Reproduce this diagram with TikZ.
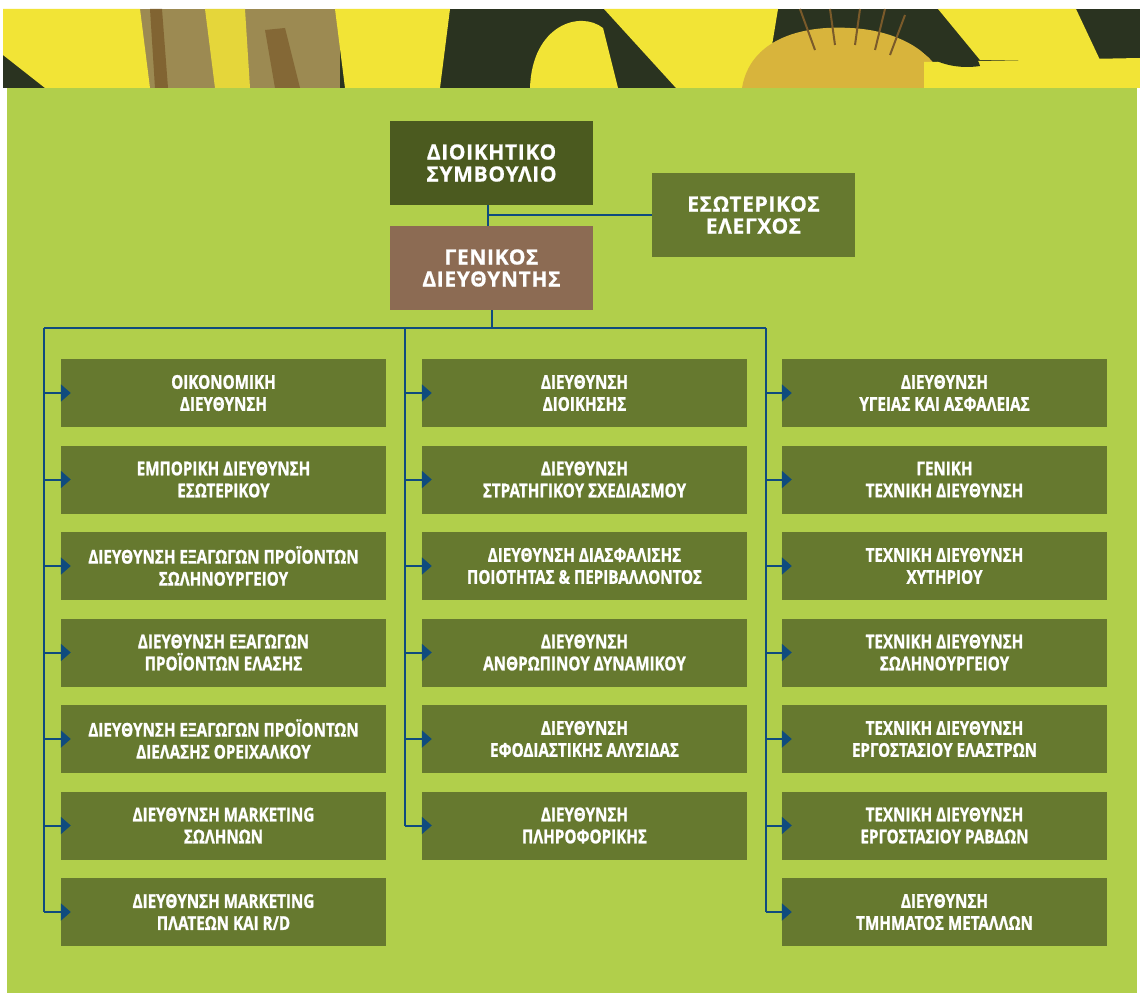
\documentclass[tikz,border=0pt]{standalone}
\usepackage{fontspec}
\usetikzlibrary{arrows.meta}
\newfontfamily\topfont[FakeBold=0.6,LetterSpace=3]{Open Sans}
\newfontfamily\condfont[FakeStretch=0.8,FakeBold=1.2]{Open Sans}
\definecolor{bggreen}{HTML}{B1CF4B}
\definecolor{boxgreen}{HTML}{66792F}
\definecolor{dsgreen}{HTML}{4B5A1F}
\definecolor{gdbrown}{HTML}{8C6B53}
\definecolor{lineblue}{HTML}{0F4B7E}
\definecolor{phdark}{HTML}{2A3320}
\definecolor{phyellow}{HTML}{F2E436}
\definecolor{phkhaki}{HTML}{9C8A52}
\definecolor{phorange}{HTML}{D8B43C}
\definecolor{phbrown}{HTML}{7A5A2A}
\begin{document}
\begin{tikzpicture}[x=1pt,y=-1pt,
  topbox/.style={minimum width=203pt,minimum height=84pt,inner sep=0pt,align=center,text=white,
    font=\topfont\bfseries\fontsize{21}{22}\selectfont},
  lbox/.style={fill=boxgreen,minimum width=325pt,minimum height=68pt,inner sep=0pt,align=center,text=white,
    font=\condfont\bfseries\fontsize{19}{22}\selectfont},
  conn/.style={draw=lineblue,line width=2pt},
  arr/.style={conn,-{Triangle[length=10pt,width=17pt]}}]
\useasboundingbox (0,0) rectangle (1140,995);
\fill[white] (0,0) rectangle (1140,995);
% photo strip
\begin{scope}
\clip (3,9) rectangle (1140,88);
\fill[phdark] (3,9) rectangle (1140,88);
\fill[phkhaki] (140,9) rectangle (340,88);
\fill[phbrown!80!phkhaki] (150,9) -- (162,9) -- (168,88) -- (155,88) -- cycle;
\fill[phbrown!70!phkhaki] (265,30) -- (285,28) -- (300,88) -- (275,88) -- cycle;
\fill[phyellow] (3,9) -- (140,9) -- (150,88) -- (45,88) -- (3,55) -- cycle;
\fill[phyellow!85!phkhaki] (205,9) -- (245,9) -- (250,88) -- (215,88) -- cycle;
\fill[phyellow] (335,9) -- (450,9) -- (440,88) -- (345,88) -- cycle;
\fill[phyellow] (530,88) .. controls (532,25) and (580,10) .. (603,28) -- (618,88) -- cycle;
\fill[phyellow] (604,9) -- (778,9) -- (765,88) -- (676,88) -- cycle;
\fill[phorange] (742,88) .. controls (750,40) and (800,25) .. (850,28) .. controls (900,30) and (940,55) .. (945,88) -- cycle;
\draw[phbrown,line width=2pt] (800,9) -- (815,50) (830,9) -- (835,45) (860,9) -- (855,45) (885,9) -- (875,50) (905,15) -- (890,55);
\fill[phyellow] (938,9) -- (1076,9) -- (1100,60) -- (980,60) -- cycle;
\fill[phyellow] (924,62) -- (1140,58) -- (1140,88) -- (924,88) -- cycle;
\fill[phdark] (915,42) .. controls (940,38) and (975,45) .. (980,66) .. controls (955,70) and (925,62) .. (915,42) -- cycle;
\end{scope}
% background
\fill[bggreen] (7,88) rectangle (1137,993);
% top nodes
\node[topbox,fill=dsgreen] (ds) at (491.5,163) {ΔΙΟΙΚΗΤΙΚΟ\\ΣΥΜΒΟΥΛΙΟ};
\node[topbox,fill=gdbrown] (gd) at (491.5,268) {ΓΕΝΙΚΟΣ\\ΔΙΕΥΘΥΝΤΗΣ};
\node[topbox,fill=boxgreen] (es) at (753.5,215) {ΕΣΩΤΕΡΙΚΟΣ\\ΕΛΕΓΧΟΣ};
\coordinate (dsj) at (488,215);
\draw[conn] (ds.south -| dsj) -- (gd.north -| dsj);
\draw[conn] (dsj) -- (es.west);
% bus
\coordinate (tl) at (44,328);
\coordinate (tm) at (405,328);
\coordinate (tr) at (766,328);
\draw[conn] (gd.south) -- (gd.south |- tl);
\draw[conn] (tl) -- (tr);
% left column
\node[lbox] (l1) at (223.5,393) {ΟΙΚΟΝΟΜΙΚΗ\\ΔΙΕΥΘΥΝΣΗ};
\node[lbox] (l2) at (223.5,479.5) {ΕΜΠΟΡΙΚΗ ΔΙΕΥΘΥΝΣΗ\\ΕΣΩΤΕΡΙΚΟΥ};
\node[lbox] (l3) at (223.5,566) {ΔΙΕΥΘΥΝΣΗ ΕΞΑΓΩΓΩΝ ΠΡΟΪΟΝΤΩΝ\\ΣΩΛΗΝΟΥΡΓΕΙΟΥ};
\node[lbox] (l4) at (223.5,652.5) {ΔΙΕΥΘΥΝΣΗ ΕΞΑΓΩΓΩΝ\\ΠΡΟΪΟΝΤΩΝ ΕΛΑΣΗΣ};
\node[lbox] (l5) at (223.5,739) {ΔΙΕΥΘΥΝΣΗ ΕΞΑΓΩΓΩΝ ΠΡΟΪΟΝΤΩΝ\\ΔΙΕΛΑΣΗΣ ΟΡΕΙΧΑΛΚΟΥ};
\node[lbox] (l6) at (223.5,825.5) {ΔΙΕΥΘΥΝΣΗ MARKETING\\ΣΩΛΗΝΩΝ};
\node[lbox] (l7) at (223.5,912) {ΔΙΕΥΘΥΝΣΗ MARKETING\\ΠΛΑΤΕΩΝ ΚΑΙ R/D};
% middle column
\node[lbox] (m1) at (584.5,393) {ΔΙΕΥΘΥΝΣΗ\\ΔΙΟΙΚΗΣΗΣ};
\node[lbox] (m2) at (584.5,479.5) {ΔΙΕΥΘΥΝΣΗ\\ΣΤΡΑΤΗΓΙΚΟΥ ΣΧΕΔΙΑΣΜΟΥ};
\node[lbox] (m3) at (584.5,566) {ΔΙΕΥΘΥΝΣΗ ΔΙΑΣΦΑΛΙΣΗΣ\\ΠΟΙΟΤΗΤΑΣ \& ΠΕΡΙΒΑΛΛΟΝΤΟΣ};
\node[lbox] (m4) at (584.5,652.5) {ΔΙΕΥΘΥΝΣΗ\\ΑΝΘΡΩΠΙΝΟΥ ΔΥΝΑΜΙΚΟΥ};
\node[lbox] (m5) at (584.5,739) {ΔΙΕΥΘΥΝΣΗ\\ΕΦΟΔΙΑΣΤΙΚΗΣ ΑΛΥΣΙΔΑΣ};
\node[lbox] (m6) at (584.5,825.5) {ΔΙΕΥΘΥΝΣΗ\\ΠΛΗΡΟΦΟΡΙΚΗΣ};
% right column
\node[lbox] (r1) at (944.5,393) {ΔΙΕΥΘΥΝΣΗ\\ΥΓΕΙΑΣ ΚΑΙ ΑΣΦΑΛΕΙΑΣ};
\node[lbox] (r2) at (944.5,479.5) {ΓΕΝΙΚΗ\\ΤΕΧΝΙΚΗ ΔΙΕΥΘΥΝΣΗ};
\node[lbox] (r3) at (944.5,566) {ΤΕΧΝΙΚΗ ΔΙΕΥΘΥΝΣΗ\\ΧΥΤΗΡΙΟΥ};
\node[lbox] (r4) at (944.5,652.5) {ΤΕΧΝΙΚΗ ΔΙΕΥΘΥΝΣΗ\\ΣΩΛΗΝΟΥΡΓΕΙΟΥ};
\node[lbox] (r5) at (944.5,739) {ΤΕΧΝΙΚΗ ΔΙΕΥΘΥΝΣΗ\\ΕΡΓΟΣΤΑΣΙΟΥ ΕΛΑΣΤΡΩΝ};
\node[lbox] (r6) at (944.5,825.5) {ΤΕΧΝΙΚΗ ΔΙΕΥΘΥΝΣΗ\\ΕΡΓΟΣΤΑΣΙΟΥ ΡΑΒΔΩΝ};
\node[lbox] (r7) at (944.5,912) {ΔΙΕΥΘΥΝΣΗ\\ΤΜΗΜΑΤΟΣ ΜΕΤΑΛΛΩΝ};
% trunks
\draw[conn] (tl) -- (tl |- l7.west);
\draw[conn] (tm) -- (tm |- m6.west);
\draw[conn] (tr) -- (tr |- r7.west);
\foreach \n in {l1,l2,l3,l4,l5,l6,l7}{\draw[arr] (tl |- \n.west) -- ([xshift=10pt]\n.west);}
\foreach \n in {m1,m2,m3,m4,m5,m6}{\draw[arr] (tm |- \n.west) -- ([xshift=10pt]\n.west);}
\foreach \n in {r1,r2,r3,r4,r5,r6,r7}{\draw[arr] (tr |- \n.west) -- ([xshift=10pt]\n.west);}
\end{tikzpicture}
\end{document}
